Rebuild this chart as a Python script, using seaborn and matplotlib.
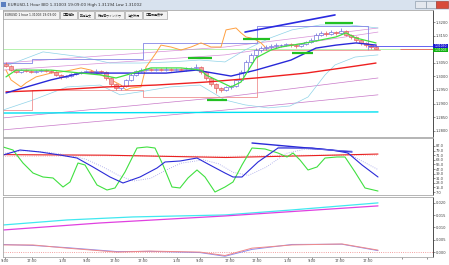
import matplotlib
matplotlib.use("Agg")
import matplotlib.pyplot as plt
import seaborn as sns
import numpy as np
from matplotlib.patches import Rectangle

# ---------------- data ----------------
first_open = 1.3045
closes = [1.3038,1.3023,1.3016,1.3023,1.3020,1.3016,1.3020,1.3023,1.3020,1.3016,
          1.3005,1.2998,1.3001,1.3009,1.3012,1.3016,1.3020,1.3016,1.3020,1.3016,
          1.2994,1.2972,1.2957,1.2964,1.2987,1.3005,1.3020,1.3023,1.3027,1.3023,
          1.3027,1.3023,1.3027,1.3023,1.3027,1.3023,1.3027,1.3031,1.3034,1.3016,
          1.2994,1.2972,1.2957,1.2950,1.2961,1.2964,1.2987,1.3016,1.3053,1.3079,
          1.3097,1.3104,1.3108,1.3112,1.3115,1.3115,1.3119,1.3115,1.3112,1.3119,
          1.3126,1.3134,1.3152,1.3160,1.3156,1.3163,1.3160,1.3167,1.3152,1.3145,
          1.3134,1.3123,1.3115,1.3108,1.3100]
highs = [1.3052,1.3042,1.3028,1.3027,1.3026,1.3024,1.3025,1.3028,1.3027,1.3024,
         1.3020,1.3009,1.3006,1.3013,1.3017,1.3021,1.3025,1.3024,1.3026,1.3025,
         1.3020,1.2998,1.2977,1.2969,1.2992,1.3011,1.3025,1.3029,1.3032,1.3031,
         1.3032,1.3031,1.3033,1.3031,1.3032,1.3030,1.3033,1.3036,1.3045,1.3039,
         1.3020,1.2999,1.2976,1.2962,1.2966,1.2970,1.2992,1.3022,1.3060,1.3086,
         1.3104,1.3111,1.3114,1.3118,1.3121,1.3120,1.3124,1.3123,1.3119,1.3124,
         1.3131,1.3140,1.3160,1.3167,1.3166,1.3170,1.3168,1.3178,1.3172,1.3157,
         1.3150,1.3138,1.3128,1.3120,1.3119]
lows = [1.3033,1.3018,1.3011,1.3012,1.3015,1.3012,1.3013,1.3016,1.3016,1.3011,
        1.3000,1.2992,1.2994,1.2997,1.3005,1.3008,1.3012,1.3011,1.3013,1.3011,
        1.2988,1.2966,1.2950,1.2951,1.2960,1.2983,1.3001,1.3015,1.3018,1.3018,
        1.3019,1.3019,1.3019,1.3018,1.3019,1.3018,1.3019,1.3022,1.3027,1.3010,
        1.2988,1.2966,1.2940,1.2943,1.2945,1.2955,1.2960,1.2982,1.3012,1.3048,
        1.3073,1.3090,1.3098,1.3102,1.3106,1.3109,1.3110,1.3109,1.3105,1.3107,
        1.3114,1.3121,1.3130,1.3147,1.3150,1.3151,1.3154,1.3155,1.3147,1.3139,
        1.3128,1.3117,1.3109,1.3102,1.3100]

ma_red_x = [0, 10, 20, 30, 40, 50, 60, 70, 74]
ma_red = [1.2943, 1.2950, 1.2961, 1.2968, 1.2979, 1.2994, 1.3012, 1.3038, 1.3049]
ma_blue_x = [0, 9, 15, 21, 32, 38, 45, 50, 57, 62, 66, 70, 74]
ma_blue = [1.2939, 1.2987, 1.3012, 1.3012, 1.3012, 1.3023, 1.3001, 1.3023, 1.3060, 1.3104, 1.3115, 1.3123, 1.3115]
ma_green_x = [0, 2, 9, 15, 19, 22, 29, 35, 39, 40, 45, 47, 50, 53, 55, 60, 66, 68, 70, 74]
ma_green = [1.2998, 1.3023, 1.3023, 1.3012, 1.3005, 1.2994, 1.3031, 1.3031, 1.3023, 1.3005,
            1.2961, 1.2979, 1.3068, 1.3097, 1.3108, 1.3123, 1.3145, 1.3160, 1.3141, 1.3123]
orange_x = [0, 1, 3, 4, 6, 9, 11, 13, 15, 17, 19, 21, 23, 24, 25, 27, 27.5, 28, 29, 30,
            31, 33, 35, 37, 39, 41, 43, 44, 46, 47, 48, 49, 50, 51, 52]
orange = [1.3023, 1.2987, 1.2961, 1.2976, 1.2998, 1.3012, 1.3016, 1.3023, 1.3031, 1.3023,
          1.3005, 1.2987, 1.2968, 1.2950, 1.2957, 1.2961, 1.2998, 1.3034, 1.3060, 1.3086,
          1.3115, 1.3108, 1.3097, 1.3108, 1.3123, 1.3108, 1.3108, 1.3171, 1.3178, 1.3160,
          1.3145, 1.3141, 1.3134, 1.3123, 1.3104]
bb_up_x = [-0.6, 7.4, 15.4, 20.8, 26.8, 32.8, 38.8, 43.8, 47.8, 52.8, 57.2, 62.8, 68.8, 74.4]
bb_up = [1.3034, 1.3090, 1.3071, 1.3049, 1.3049, 1.3053, 1.3060, 1.3053, 1.3097, 1.3141,
         1.3171, 1.3189, 1.3189, 1.3178]
bb_lo_x = [-0.6, 5.4, 12.2, 18.8, 22.8, 26.8, 32.8, 38.8, 43.8, 47.8, 52.4, 56.8, 60.4, 63.8, 65.8, 69.8, 74.4]
bb_lo = [1.2876, 1.2913, 1.2961, 1.2968, 1.2932, 1.2943, 1.2961, 1.2968, 1.2913, 1.2895,
         1.2884, 1.2891, 1.2924, 1.3005, 1.3042, 1.3071, 1.3079]
env_x = [-0.6, 43.8, 74.4]
env_u2 = [1.3049, 1.3108, 1.3178]
env_u1 = [1.3023, 1.3079, 1.3163]
env_l1 = [1.2847, 1.2924, 1.2994]
env_l2 = [1.2803, 1.2876, 1.2932]
cyan_x = [-0.6, 74.4]
cyan = [1.2865, 1.2869]
step_hi_x = [-0.6, 5.2, 5.2, 27.4, 27.4, 50.2, 50.2, 72.4, 72.4]
step_hi = [1.3049, 1.3049, 1.3064, 1.3064, 1.3123, 1.3123, 1.3185, 1.3185, 1.3097]
step_lo_x = [-0.6, 5.2, 5.2, 27.4, 27.4, 50.2, 50.2, 74.8]
step_lo = [1.2876, 1.2876, 1.2950, 1.2950, 1.2924, 1.2924, 1.3097, 1.3097]
trend_up_x = [47.8, 65.8]
trend_up = [1.3163, 1.3226]
mark_x0 = [36.4, 40.2, 47.4, 57.2, 63.8]
mark_x1 = [41.2, 44.2, 52.8, 61.4, 69.4]
mark_y = [1.3068, 1.2913, 1.3138, 1.3086, 1.3196]
level_line = 1.3101
bid_price = 1.3101
ask_price = 1.3112
price_ticks = [1.3200, 1.3150, 1.3100, 1.3050, 1.3000, 1.2950, 1.2900, 1.2850, 1.2800]

osc_green_x = [-0.6, 1.4, 3.4, 5.4, 7.4, 9.4, 11.4, 12.8, 14.4, 15.8, 18.2, 20.2, 21.8, 23.8,
               26.2, 28.2, 29.8, 31.4, 33.2, 34.8, 36.4, 38.2, 39.8, 41.8, 43.8, 45.4, 47.2,
               49.2, 51.8, 54.4, 56.2, 57.4, 58.8, 60.4, 62.2, 63.8, 66.2, 67.8, 69.8, 71.8, 74.4]
osc_green = [85.3, 80.0, 57.4, 40.0, 33.1, 31.4, 15.7, 24.4, 57.4, 54.0, 19.2, 10.5, 14.0, 41.8,
             83.5, 85.3, 83.5, 54.0, 15.7, 14.0, 31.4, 45.3, 33.1, 7.0, 15.7, 24.4, 54.0,
             83.5, 81.8, 74.8, 67.9, 74.8, 62.7, 45.3, 50.5, 66.1, 67.9, 67.9, 41.8, 14.0, 8.7]
osc_blue_x = [-0.6, 2.8, 6.8, 10.8, 14.2, 17.4, 20.8, 23.4, 26.8, 30.2, 31.8, 34.8, 38.2, 40.4,
              43.8, 45.4, 47.2, 50.4, 54.4, 57.2, 61.2, 65.2, 68.4, 71.2, 74.4]
osc_blue = [71.3, 80.0, 76.6, 71.3, 66.1, 50.5, 33.1, 22.7, 33.1, 48.7, 59.2, 60.9, 66.1, 55.7,
            40.0, 33.1, 33.1, 59.2, 83.5, 83.5, 83.5, 80.0, 74.8, 54.0, 33.1]
osc_sig_x = [-0.6, 4.0, 8.5, 12.5, 16.0, 19.5, 22.5, 25.5, 29.0, 32.0, 35.0, 39.5, 42.5, 45.5,
             48.5, 52.0, 56.0, 60.0, 64.0, 67.5, 70.5, 74.4]
osc_sig = [74.0, 79.0, 76.0, 71.0, 64.0, 50.0, 36.0, 26.0, 31.0, 45.0, 57.0, 63.0, 56.0, 41.0,
           36.0, 50.0, 74.0, 82.0, 81.0, 78.0, 64.0, 46.0]
osc_red_x = [-0.6, 20, 44, 60, 74.4]
osc_red = [72, 71, 67, 70, 73]
osc_pink = [69, 70, 69, 71, 71]
osc_tr1_x = [49.2, 69.2]
osc_tr1 = [92.2, 76.6]
osc_tr2_x = [54.4, 69.2]
osc_tr2 = [85.0, 78.0]
osc_ticks = [87, 79, 71, 63, 55, 47, 39, 31, 23, 15, 7]

p2_cyan_x = [-0.6, 12.2, 25.4, 43.8, 57.2, 74.4]
p2_cyan = [0.01102, 0.01306, 0.01429, 0.01510, 0.01714, 0.0200]
p2_mag_x = [-0.6, 18.8, 43.8, 74.4]
p2_mag = [0.00898, 0.01184, 0.01469, 0.01878]
p2_low_x = [-0.6, 5.4, 12.2, 22.2, 28.8, 38.8, 43.8, 49.2, 57.2, 67.2, 74.4]
p2_red = [0.0029, 0.0029, 0.0016, 0.0000, 0.0004, 0.0000, -0.0014, 0.0016, 0.0029, 0.0033, 0.0008]
p2_blue = [0.0031, 0.0027, 0.0018, 0.0002, 0.0003, -0.0002, -0.0017, 0.0011, 0.0031, 0.0032, 0.0006]
p2_ticks = [0.020, 0.015, 0.010, 0.005, 0.000]

time_pos = [-0.2, 5.2, 11.4, 16.2, 21.8, 27.4, 34.2, 38.8, 44.8, 50.2, 56.4, 61.2, 66.8, 72.4]
time_labels = ["9:00", "17:00", "1:30", "9:00", "17:00", "17:00", "1:30", "9:00",
               "17:00", "17:00", "1:30", "9:00", "17:00", "17:00"]

title_text = "EURUSD,1 Hour BID 1.31003 19:09:00 High 1.31194 Low 1.31002"
tab_labels = ["EURUSD 1 hour 1.31003 19:09:00", "口座情報", "新規注文", "気配値ウィンドウ", "注文状況", "口座履歴表示"]
tab_x = [3, 60, 78, 95, 125, 143]
tab_w = [56, 17, 16, 29, 17, 24]

# ---------------- figure ----------------
sns.set_theme(style="white")
plt.rcParams['font.family'] = ['DejaVu Sans', 'Noto Sans CJK JP']
W, H = 449, 265
fig = plt.figure(figsize=(W / 100, H / 100), dpi=100)
fig.patch.set_facecolor("white")


def px_axes(x0, y0, x1, y1):
    return fig.add_axes([x0 / W, 1 - y1 / H, (x1 - x0) / W, (y1 - y0) / H])


def frect(x, y, w, h, **kw):
    fig.add_artist(Rectangle((x / W, 1 - (y + h) / H), w / W, h / H,
                             transform=fig.transFigure, **kw))


def ftext(x, y, s, **kw):
    fig.text(x / W, 1 - y / H, s, **kw)


def sline(ax, x, y, **kw):
    sns.lineplot(x=x, y=y, ax=ax, estimator=None, sort=False, legend=False, **kw)


XL = (-0.6, 85.4)
FS = 2.6


def style_ax(ax):
    ax.set_xlim(*XL)
    ax.set_facecolor("white")
    for s in ["top", "left", "bottom"]:
        ax.spines[s].set_color("#a8a8a8")
        ax.spines[s].set_linewidth(0.6)
    ax.spines["right"].set_color("#303030")
    ax.spines["right"].set_linewidth(0.6)
    ax.yaxis.tick_right()
    ax.tick_params(axis="y", which="both", right=True, left=False, length=1.2, width=0.4,
                   pad=0.6, labelsize=FS, colors="#404040")
    ax.tick_params(axis="x", bottom=False, labelbottom=False)
    ax.set_xlabel("")
    ax.set_ylabel("")


# main panel
ax = px_axes(3, 10, 433, 137)
style_ax(ax)
ax.set_ylim(1.27768, 1.32442)

for yy, c, lw in [(env_u2, "#d890d8", 0.5), (env_u1, "#d890d8", 0.5),
                  (env_l1, "#c878c8", 0.5), (env_l2, "#c878c8", 0.5)]:
    sline(ax, env_x, yy, color=c, linewidth=lw)
sline(ax, bb_up_x, bb_up, color="#8fd3e8", linewidth=0.5)
sline(ax, bb_lo_x, bb_lo, color="#8fd3e8", linewidth=0.5)
sline(ax, cyan_x, cyan, color="#00e0f0", linewidth=1.0)
ax.axhline(level_line, color="#a8f0a0", linewidth=0.6, zorder=1)
sline(ax, step_hi_x, step_hi, color="#8484e6", linewidth=0.6)
sline(ax, step_lo_x, step_lo, color="#f09090", linewidth=0.6)
sline(ax, orange_x, orange, color="#ffa040", linewidth=0.7)

# candles
idx = np.arange(len(closes))
opens = [first_open] + closes[:-1]
bull = [c >= o for o, c in zip(opens, closes)]
edge = ["#6464d8" if b else "#e05a5a" for b in bull]
face = ["white" if b else "#f4a0a0" for b in bull]
ax.vlines(idx, lows, highs, colors=edge, linewidth=0.5, zorder=3)
bodies = [max(abs(c - o), 0.00012) for o, c in zip(opens, closes)]
bottoms = [min(o, c) for o, c in zip(opens, closes)]
ax.bar(idx, bodies, bottom=bottoms, width=0.62, color=face, edgecolor=edge,
       linewidth=0.45, zorder=3)

sline(ax, ma_red_x, ma_red, color="#ee2020", linewidth=1.0, zorder=4)
sline(ax, ma_blue_x, ma_blue, color="#2828d8", linewidth=1.0, zorder=4)
sline(ax, ma_green_x, ma_green, color="#40e040", linewidth=0.9, zorder=4)
sline(ax, trend_up_x, trend_up, color="#2a2ae0", linewidth=1.2, zorder=4)
ax.hlines(mark_y, mark_x0, mark_x1, colors="#22c022", linewidth=1.6, zorder=5)
ax.hlines([ask_price], [72.4], [XL[1]], colors="#4a4af0", linewidth=0.6, zorder=5)
ax.hlines([bid_price], [78.8], [XL[1]], colors="#f06060", linewidth=0.6, zorder=5)
ax.set_yticks(price_ticks)
ax.set_yticklabels(["" if abs(v - 1.31) < 1e-6 else f"{v:.4f}" for v in price_ticks])
# price boxes (current ask / bid)
frect(433, 44, 15, 4, facecolor="#1a1ad0", edgecolor="none", zorder=10)
frect(433, 48, 15, 4, facecolor="#10b010", edgecolor="none", zorder=10)
ftext(440.5, 46.1, "1.31030", fontsize=2.2, color="white", ha="center", va="center", zorder=11)
ftext(440.5, 50.1, "1.31003", fontsize=2.2, color="white", ha="center", va="center", zorder=11)

# oscillator panel
ax1 = px_axes(3, 138, 433, 195)
style_ax(ax1)
ax1.set_ylim(1.8, 100.9)
sline(ax1, osc_red_x, osc_pink, color="#f0a0a0", linewidth=0.6, linestyle=":")
sline(ax1, osc_red_x, osc_red, color="#e82020", linewidth=0.8)
sline(ax1, osc_sig_x, osc_sig, color="#a0a0e8", linewidth=0.6, linestyle=":")
sline(ax1, osc_green_x, osc_green, color="#40e040", linewidth=0.8)
sline(ax1, osc_blue_x, osc_blue, color="#2a2ad8", linewidth=0.8)
sline(ax1, osc_tr1_x, osc_tr1, color="#2a2ad8", linewidth=1.0)
sline(ax1, osc_tr2_x, osc_tr2, color="#6a6ae0", linewidth=0.6)
ax1.set_yticks(osc_ticks)
ax1.set_yticklabels([f"{v:.1f}" for v in osc_ticks])

# lower panel
ax2 = px_axes(3, 197, 433, 257)
style_ax(ax2)
ax2.set_ylim(-0.0020, 0.0224)
ax2.axhline(0.0, color="#f08080", linewidth=0.6, linestyle=":")
sline(ax2, p2_cyan_x, p2_cyan, color="#40e8f0", linewidth=0.9)
sline(ax2, p2_mag_x, p2_mag, color="#e040e0", linewidth=0.9)
sline(ax2, p2_low_x, p2_blue, color="#8c8cf0", linewidth=0.7)
sline(ax2, p2_low_x, p2_red, color="#f08a8a", linewidth=0.7)
ax2.set_yticks(p2_ticks)
ax2.set_yticklabels([f"{v:.3f}" for v in p2_ticks])
ax2.tick_params(axis="x", bottom=True, labelbottom=True, length=1.2, width=0.4, pad=0.5,
                labelsize=FS, colors="#404040")
ax2.set_xticks(time_pos + [79.2, 84.2])
ax2.set_xticklabels(time_labels + ["", ""])

# title bar and window buttons
frect(0, 0, W, 10, facecolor="#d8e2ee", edgecolor="none")
frect(1, 2, 5, 5, facecolor="#5a7fc0", edgecolor="none")
ftext(8, 5, title_text, fontsize=3.0, color="#303030", va="center")
frect(415, 1, 11, 7, facecolor="#e4e8ee", edgecolor="#8090a0", linewidth=0.4)
frect(426, 1, 10, 7, facecolor="#e4e8ee", edgecolor="#8090a0", linewidth=0.4)
frect(436, 1, 12, 7, facecolor="#d84a3a", edgecolor="#a03020", linewidth=0.4)

# tab buttons
for x, w, lab in zip(tab_x, tab_w, tab_labels):
    frect(x, 11, w, 8, facecolor="#f2f2f2", edgecolor="#909090", linewidth=0.4)
    ftext(x + w / 2, 15, lab, fontsize=2.2, color="#202020", ha="center", va="center")

fig.savefig("out.png", dpi=100, facecolor="white")
